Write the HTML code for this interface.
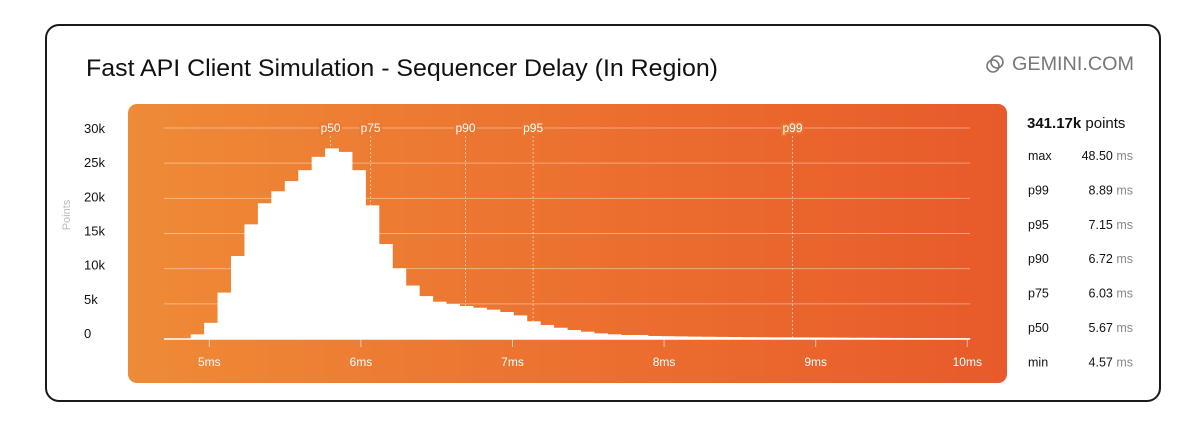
<!DOCTYPE html>
<html><head><meta charset="utf-8"><style>
html,body{margin:0;padding:0;background:#fff;}
svg{display:block;font-family:"Liberation Sans",sans-serif;}
</style></head><body>
<svg id="chart" width="1200" height="434" viewBox="0 0 1200 434">
<defs>
<linearGradient id="og" x1="0" x2="1" y1="0" y2="0">
<stop offset="0" stop-color="#EE8B36"/><stop offset="0.5" stop-color="#EC7130"/><stop offset="1" stop-color="#E85A2A"/>
</linearGradient>
</defs>
<rect x="46" y="25" width="1114" height="376" rx="13" fill="#fff" stroke="#1a1a1a" stroke-width="2"/>
<text x="86" y="76" font-size="24" fill="#111" textLength="632" lengthAdjust="spacingAndGlyphs">Fast API Client Simulation - Sequencer Delay (In Region)</text>
<g stroke="#777" stroke-width="1.6" fill="none">
<circle cx="997" cy="62" r="6"/><circle cx="993" cy="66" r="6"/>
</g>
<text x="1012" y="70" font-size="19" fill="#777" textLength="122" lengthAdjust="spacingAndGlyphs">GEMINI.COM</text>
<rect x="128" y="104" width="879" height="279" rx="9" fill="url(#og)"/>
<text transform="translate(70,215) rotate(-90)" text-anchor="middle" font-size="11" fill="#bbb">Points</text>
<g id="grid"></g><g id="bars"></g><g id="marks"></g><g id="axes"></g>
<g id="stats"></g>
</svg>
<script>
const yTicks=[0,5000,10000,15000,20000,25000,30000];
const yTickLabels=["0","5k","10k","15k","20k","25k","30k"];
const xTicks=[5,6,7,8,9,10];
const xTickLabels=["5ms","6ms","7ms","8ms","9ms","10ms"];
const binStart=4.877, binWidth=0.0887;
const counts=[660,2300,6600,11800,16300,19300,21000,22450,24000,25900,27100,26600,24000,19000,13500,10050,7600,6100,5300,4970,4690,4450,4170,3840,3360,2520,1990,1600,1280,1040,800,670,570,570,430,400,370,340,320,300,280,260,250,240,230,220,210,200,190,180,170,160,150,140,130,120,110,100];
const pctNames=["p50","p75","p90","p95","p99"];
const pctPos=[5.80,6.064,6.69,7.136,8.847];
const statLabels=["max","p99","p95","p90","p75","p50","min"];
const statValues=["48.50","8.89","7.15","6.72","6.03","5.67","4.57"];
const totalLabel="341.17k";

const NS="http://www.w3.org/2000/svg";
const X0=164,X1=970,Y0=339,YT=128;
const xs=v=>209.3+(v-5)*151.6;
const ys=v=>Y0-(v/30000)*(Y0-YT);
function mk(tag,attrs,parent,text){const e=document.createElementNS(NS,tag);for(const k in attrs)e.setAttribute(k,attrs[k]);if(text!==undefined)e.textContent=text;parent.appendChild(e);return e;}
const grid=document.getElementById('grid'),bars=document.getElementById('bars'),marks=document.getElementById('marks'),axes=document.getElementById('axes'),stats=document.getElementById('stats');
yTicks.forEach((t,i)=>{
  if(t>0){const l=mk('line',{x1:X0,x2:X1,y1:ys(t),y2:ys(t),stroke:'rgba(255,255,255,0.4)','stroke-width':1},grid);
  
  }
  const ty=333-(i/(yTicks.length-1))*(333-128);
  const tx=mk('text',{x:84,y:ty+5,'font-size':13,fill:'#111'},axes,yTickLabels[i]);
  
  
});
counts.forEach((c,i)=>{
  const a=xs(binStart+i*binWidth),b=Math.min(xs(binStart+(i+1)*binWidth),X1);
  if(a>=X1)return;
  const r=mk('rect',{x:a,y:ys(c),width:b-a+0.4,height:Y0-ys(c),fill:'#fff'},bars);
  
  
});
const base=mk('line',{x1:X0,x2:X1,y1:Y0,y2:Y0,stroke:'#fff','stroke-width':1.5},axes);


xTicks.forEach((t,i)=>{
  mk('line',{x1:xs(t),x2:xs(t),y1:Y0,y2:Y0+8,stroke:'rgba(255,255,255,0.6)','stroke-width':1},axes);
  const tx=mk('text',{x:xs(t),y:366,'text-anchor':'middle','font-size':12,fill:'#fff'},axes,xTickLabels[i]);
  
  
});
pctPos.forEach((p,i)=>{
  const x=xs(p);
  const l=mk('line',{x1:x,x2:x,y1:136,y2:Y0,stroke:'rgba(255,255,255,0.55)','stroke-width':1,'stroke-dasharray':'2,2'},marks);
  
  
  const c=Math.round((x-128)/879*255);
  mk('rect',{x:x-14,y:121,width:28,height:14,fill:'#EC7A32',opacity:0.0},marks);
  const t=mk('text',{x:x,y:132,'text-anchor':'middle','font-size':12,fill:'#fff',stroke:'#EC7832','stroke-width':4,'paint-order':'stroke'},marks,pctNames[i]);
  
  
});
const tot=mk('text',{x:1027,y:128,'font-size':15,'font-weight':'bold',fill:'#111'},stats);


mk('tspan',{},tot,totalLabel);mk('tspan',{'font-weight':'normal'},tot,' points');
statLabels.forEach((s,i)=>{
  const y=160+i*34.4;
  const a=mk('text',{x:1028,y:y,'font-size':12.5,fill:'#111'},stats,s);
  
  
  const v=mk('text',{x:1133,y:y,'text-anchor':'end','font-size':12.5,fill:'#111'},stats);
  
  
  mk('tspan',{},v,statValues[i]);mk('tspan',{fill:'#888'},v,' ms');
});
</script>
</body></html>
